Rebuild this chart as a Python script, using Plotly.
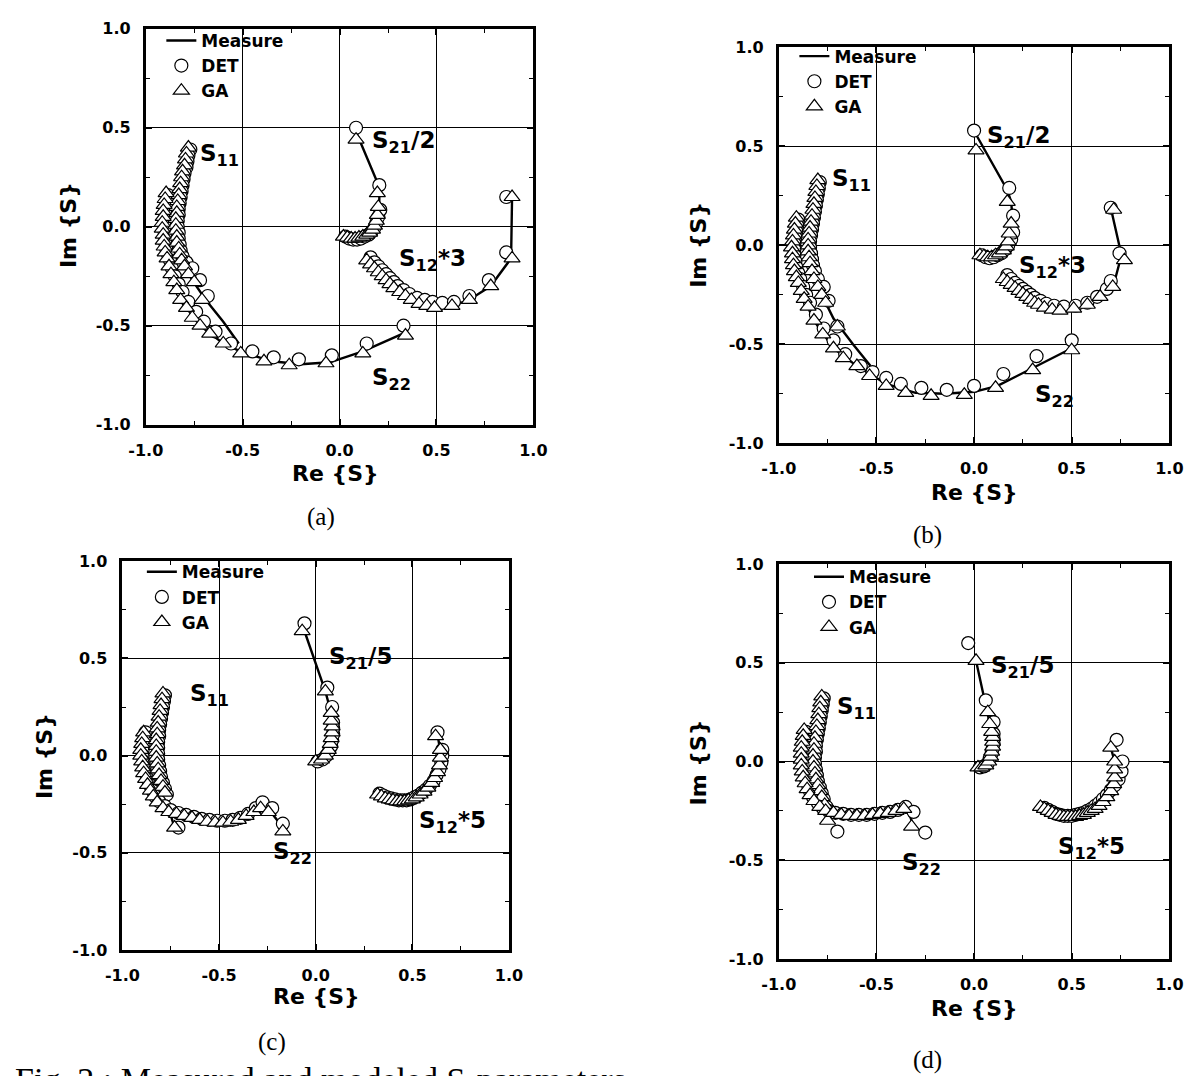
import plotly.graph_objects as go

# ---------------- tick labels ----------------
TICK_VALS = [-1.0, -0.5, 0.0, 0.5, 1.0]
TICK_TEXT = ["-1.0", "-0.5", "0.0", "0.5", "1.0"]

# ---------------- panel (a) ----------------
A_S11_MEAS = [-0.78+0.40j, -0.80+0.31j, -0.82+0.22j, -0.835+0.13j, -0.84+0.04j, -0.84-0.05j, -0.825-0.14j,
              -0.80-0.20j, -0.76-0.27j, -0.69-0.37j, -0.60-0.48j, -0.52-0.59j]
A_S11_DET = [-0.77+0.39j, -0.78+0.36j, -0.785+0.33j, -0.79+0.30j, -0.80+0.27j, -0.805+0.24j, -0.81+0.21j,
             -0.815+0.18j, -0.82+0.15j, -0.825+0.12j, -0.83+0.09j, -0.83+0.06j, -0.835+0.03j, -0.835+0.0j,
             -0.83-0.03j, -0.83-0.06j, -0.825-0.09j, -0.82-0.12j, -0.81-0.15j, -0.79-0.18j, -0.76-0.21j,
             -0.72-0.27j, -0.68-0.35j]
A_S11_GA = [-0.78+0.40j, -0.79+0.37j, -0.795+0.34j, -0.80+0.31j, -0.81+0.28j, -0.815+0.25j, -0.82+0.22j,
            -0.825+0.19j, -0.83+0.16j, -0.835+0.13j, -0.84+0.10j, -0.84+0.07j, -0.845+0.04j, -0.845+0.01j,
            -0.845-0.02j, -0.84-0.05j, -0.84-0.08j, -0.83-0.11j, -0.825-0.14j, -0.815-0.17j, -0.80-0.20j,
            -0.78-0.24j, -0.75-0.28j, -0.71-0.37j]
A_S22_MEAS = [-0.895+0.17j, -0.91+0.08j, -0.915-0.01j, -0.905-0.10j, -0.88-0.20j, -0.84-0.32j, -0.79-0.41j,
              -0.72-0.50j, -0.60-0.59j, -0.50-0.635j, -0.35-0.68j, -0.20-0.695j, -0.05-0.685j, 0.12-0.63j,
              0.35-0.53j]
A_S22_DET = [-0.885+0.16j, -0.89+0.13j, -0.895+0.10j, -0.90+0.07j, -0.90+0.04j, -0.905+0.01j, -0.905-0.02j,
             -0.90-0.05j, -0.90-0.08j, -0.895-0.11j, -0.885-0.14j, -0.875-0.17j, -0.865-0.21j, -0.85-0.25j,
             -0.83-0.29j, -0.81-0.33j, -0.78-0.38j, -0.74-0.43j, -0.70-0.48j, -0.64-0.53j, -0.56-0.59j,
             -0.45-0.63j, -0.34-0.66j, -0.21-0.67j, -0.04-0.65j, 0.14-0.59j, 0.33-0.50j]
A_S22_GA = [-0.895+0.17j, -0.90+0.14j, -0.905+0.11j, -0.91+0.08j, -0.91+0.05j, -0.915+0.02j, -0.915-0.01j,
            -0.91-0.04j, -0.91-0.07j, -0.905-0.10j, -0.90-0.13j, -0.89-0.16j, -0.88-0.20j, -0.87-0.24j,
            -0.855-0.28j, -0.84-0.32j, -0.82-0.37j, -0.79-0.41j, -0.76-0.46j, -0.72-0.50j, -0.67-0.54j,
            -0.60-0.59j, -0.51-0.64j, -0.39-0.68j, -0.26-0.70j, -0.07-0.69j, 0.12-0.64j, 0.34-0.55j]
A_S21_MEAS = [0.03-0.05j, 0.08-0.065j, 0.13-0.05j, 0.17-0.02j, 0.19+0.02j, 0.205+0.08j, 0.205+0.20j, 0.085+0.48j]
A_S21_DET = [0.03-0.05j, 0.05-0.06j, 0.07-0.065j, 0.09-0.065j, 0.11-0.06j, 0.13-0.05j, 0.15-0.04j,
             0.165-0.025j, 0.18-0.005j, 0.19+0.02j, 0.20+0.05j, 0.21+0.085j, 0.205+0.21j, 0.085+0.50j]
A_S21_GA = [0.02-0.05j, 0.04-0.055j, 0.06-0.06j, 0.08-0.06j, 0.10-0.055j, 0.12-0.05j, 0.14-0.04j,
            0.155-0.03j, 0.17-0.015j, 0.18+0.005j, 0.19+0.03j, 0.195+0.06j, 0.20+0.10j, 0.195+0.17j, 0.085+0.44j]
A_S12_MEAS = [0.15-0.165j, 0.25-0.26j, 0.35-0.35j, 0.45-0.395j, 0.55-0.405j, 0.66-0.375j, 0.78-0.30j,
              0.885-0.16j, 0.89+0.15j]
A_S12_DET = [0.16-0.155j, 0.18-0.18j, 0.20-0.20j, 0.22-0.22j, 0.24-0.24j, 0.26-0.26j, 0.28-0.28j, 0.30-0.30j,
             0.33-0.32j, 0.36-0.34j, 0.40-0.36j, 0.44-0.37j, 0.48-0.38j, 0.53-0.385j, 0.59-0.38j, 0.67-0.35j,
             0.77-0.27j, 0.86-0.13j, 0.86+0.15j]
A_S12_GA = [0.14-0.17j, 0.16-0.19j, 0.18-0.21j, 0.20-0.23j, 0.22-0.25j, 0.24-0.27j, 0.26-0.29j, 0.28-0.31j,
            0.31-0.33j, 0.34-0.35j, 0.37-0.37j, 0.41-0.39j, 0.45-0.40j, 0.49-0.41j, 0.58-0.40j, 0.67-0.37j,
            0.78-0.30j, 0.89-0.16j, 0.89+0.15j]

# ---------------- panel (b) ----------------
B_S11_MEAS = [-0.80+0.33j, -0.815+0.24j, -0.83+0.15j, -0.845+0.06j, -0.85-0.03j, -0.84-0.09j, -0.82-0.17j,
              -0.78-0.25j, -0.72-0.37j, -0.62-0.50j, -0.53-0.61j]
B_S11_DET = [-0.79+0.32j, -0.795+0.29j, -0.80+0.26j, -0.805+0.23j, -0.81+0.20j, -0.815+0.17j, -0.82+0.14j,
             -0.825+0.11j, -0.83+0.08j, -0.835+0.05j, -0.84+0.02j, -0.84-0.01j, -0.835-0.04j, -0.83-0.07j,
             -0.825-0.10j, -0.815-0.13j, -0.80-0.17j, -0.77-0.21j, -0.745-0.28j, -0.70-0.41j]
B_S11_GA = [-0.80+0.33j, -0.805+0.30j, -0.81+0.27j, -0.815+0.24j, -0.82+0.21j, -0.825+0.18j, -0.83+0.15j,
            -0.835+0.12j, -0.84+0.09j, -0.845+0.06j, -0.85+0.03j, -0.85+0.0j, -0.85-0.03j, -0.845-0.06j,
            -0.84-0.09j, -0.83-0.13j, -0.82-0.17j, -0.80-0.21j, -0.78-0.25j, -0.76-0.29j, -0.70-0.41j]
B_S22_MEAS = [-0.91+0.14j, -0.93+0.02j, -0.93-0.07j, -0.91-0.16j, -0.87-0.27j, -0.82-0.38j, -0.72-0.52j,
              -0.60-0.61j, -0.45-0.70j, -0.30-0.745j, -0.15-0.75j, 0.0-0.74j, 0.12-0.71j, 0.30-0.62j, 0.50-0.52j]
B_S22_DET = [-0.90+0.13j, -0.905+0.10j, -0.91+0.07j, -0.915+0.04j, -0.92+0.01j, -0.92-0.02j, -0.92-0.05j,
             -0.915-0.08j, -0.91-0.11j, -0.90-0.14j, -0.89-0.17j, -0.875-0.21j, -0.86-0.25j, -0.84-0.29j,
             -0.81-0.35j, -0.77-0.42j, -0.72-0.48j, -0.66-0.55j, -0.58-0.61j, -0.52-0.64j, -0.45-0.67j,
             -0.375-0.70j, -0.27-0.72j, -0.14-0.73j, 0.0-0.71j, 0.15-0.65j, 0.32-0.56j, 0.50-0.48j]
B_S22_GA = [-0.91+0.14j, -0.915+0.11j, -0.92+0.08j, -0.925+0.05j, -0.93+0.02j, -0.935-0.01j, -0.93-0.04j,
            -0.93-0.07j, -0.925-0.10j, -0.92-0.13j, -0.91-0.16j, -0.90-0.19j, -0.885-0.23j, -0.87-0.27j,
            -0.85-0.31j, -0.82-0.38j, -0.775-0.45j, -0.72-0.52j, -0.67-0.57j, -0.60-0.61j, -0.535-0.66j,
            -0.45-0.71j, -0.35-0.745j, -0.22-0.76j, -0.05-0.755j, 0.11-0.72j, 0.30-0.63j, 0.50-0.53j]
B_S21_MEAS = [0.03-0.05j, 0.08-0.065j, 0.13-0.045j, 0.17-0.01j, 0.19+0.04j, 0.20+0.10j, 0.19+0.22j,
              0.17+0.28j, 0.01+0.56j]
B_S21_DET = [0.04-0.05j, 0.06-0.06j, 0.08-0.065j, 0.10-0.06j, 0.12-0.05j, 0.14-0.04j, 0.16-0.02j,
             0.175+0.0j, 0.19+0.03j, 0.20+0.065j, 0.20+0.15j, 0.18+0.29j, 0.0+0.58j]
B_S21_GA = [0.03-0.05j, 0.05-0.055j, 0.07-0.06j, 0.09-0.06j, 0.11-0.05j, 0.13-0.04j, 0.15-0.025j,
            0.165-0.005j, 0.175+0.02j, 0.18+0.06j, 0.19+0.11j, 0.17+0.22j, 0.01+0.48j]
B_S12_MEAS = [0.15-0.165j, 0.25-0.24j, 0.35-0.30j, 0.45-0.325j, 0.55-0.315j, 0.65-0.26j, 0.72-0.18j,
              0.755-0.05j, 0.70+0.19j]
B_S12_DET = [0.17-0.15j, 0.19-0.17j, 0.21-0.19j, 0.23-0.205j, 0.25-0.22j, 0.27-0.235j, 0.29-0.25j,
             0.31-0.265j, 0.34-0.28j, 0.37-0.295j, 0.41-0.305j, 0.46-0.31j, 0.52-0.305j, 0.58-0.29j,
             0.63-0.26j, 0.68-0.22j, 0.70-0.18j, 0.745-0.04j, 0.70+0.19j]
B_S12_GA = [0.15-0.17j, 0.17-0.185j, 0.19-0.20j, 0.21-0.215j, 0.23-0.23j, 0.25-0.245j, 0.27-0.26j,
            0.29-0.275j, 0.31-0.29j, 0.33-0.30j, 0.36-0.315j, 0.40-0.325j, 0.44-0.33j, 0.51-0.32j,
            0.58-0.30j, 0.645-0.26j, 0.71-0.21j, 0.77-0.075j, 0.715+0.18j]

# ---------------- panel (c) ----------------
C_S11_MEAS = [-0.79+0.32j, -0.805+0.23j, -0.815+0.14j, -0.825+0.05j, -0.82-0.04j, -0.81-0.10j, -0.79-0.18j,
              -0.76-0.27j, -0.73-0.37j]
C_S11_DET = [-0.78+0.31j, -0.785+0.28j, -0.79+0.25j, -0.795+0.22j, -0.80+0.19j, -0.805+0.16j, -0.81+0.13j,
             -0.81+0.10j, -0.815+0.07j, -0.815+0.04j, -0.815+0.01j, -0.815-0.02j, -0.81-0.05j, -0.805-0.08j,
             -0.80-0.11j, -0.79-0.14j, -0.78-0.17j, -0.77-0.20j, -0.71-0.37j]
C_S11_GA = [-0.79+0.32j, -0.795+0.29j, -0.80+0.26j, -0.805+0.23j, -0.81+0.20j, -0.815+0.17j, -0.82+0.14j,
            -0.82+0.11j, -0.825+0.08j, -0.825+0.05j, -0.825+0.02j, -0.825-0.01j, -0.82-0.04j, -0.815-0.07j,
            -0.81-0.10j, -0.80-0.13j, -0.79-0.16j, -0.78-0.19j, -0.73-0.37j]
C_S22_MEAS = [-0.89+0.12j, -0.905+0.03j, -0.90-0.03j, -0.88-0.12j, -0.84-0.21j, -0.79-0.27j, -0.72-0.30j,
              -0.60-0.33j, -0.48-0.345j, -0.40-0.33j, -0.32-0.29j, -0.28-0.26j, -0.24-0.28j, -0.17-0.37j]
C_S22_DET = [-0.88+0.12j, -0.885+0.09j, -0.89+0.06j, -0.895+0.03j, -0.895+0.0j, -0.89-0.03j, -0.885-0.06j,
             -0.88-0.09j, -0.87-0.12j, -0.86-0.15j, -0.845-0.18j, -0.83-0.21j, -0.81-0.235j, -0.78-0.26j,
             -0.75-0.28j, -0.71-0.295j, -0.67-0.305j, -0.63-0.315j, -0.59-0.325j, -0.55-0.33j, -0.51-0.335j,
             -0.47-0.335j, -0.43-0.33j, -0.39-0.32j, -0.35-0.30j, -0.31-0.27j, -0.275-0.24j, -0.225-0.27j,
             -0.17-0.35j]
C_S22_GA = [-0.89+0.12j, -0.895+0.09j, -0.90+0.06j, -0.905+0.03j, -0.905+0.0j, -0.90-0.03j, -0.895-0.06j,
            -0.89-0.09j, -0.88-0.12j, -0.87-0.15j, -0.855-0.18j, -0.84-0.21j, -0.82-0.24j, -0.79-0.27j,
            -0.76-0.29j, -0.72-0.30j, -0.68-0.31j, -0.64-0.32j, -0.60-0.33j, -0.56-0.34j, -0.52-0.345j,
            -0.48-0.345j, -0.44-0.34j, -0.40-0.33j, -0.36-0.31j, -0.32-0.29j, -0.285-0.27j, -0.245-0.29j,
            -0.17-0.39j]
C_S21_MEAS = [0.0-0.03j, 0.04-0.015j, 0.065+0.03j, 0.08+0.09j, 0.085+0.15j, 0.08+0.22j, 0.05+0.33j, -0.065+0.66j]
C_S21_DET = [0.01-0.03j, 0.035-0.02j, 0.055+0.0j, 0.07+0.025j, 0.08+0.05j, 0.085+0.08j, 0.09+0.11j,
             0.09+0.14j, 0.09+0.17j, 0.085+0.25j, 0.06+0.35j, -0.058+0.68j]
C_S21_GA = [0.0-0.03j, 0.03-0.02j, 0.05+0.0j, 0.065+0.03j, 0.075+0.06j, 0.08+0.09j, 0.085+0.12j,
            0.085+0.15j, 0.08+0.18j, 0.08+0.22j, 0.05+0.33j, -0.07+0.64j]
C_S12_MEAS = [0.32-0.20j, 0.40-0.23j, 0.48-0.23j, 0.56-0.19j, 0.61-0.12j, 0.64-0.04j, 0.645+0.02j, 0.63+0.11j]
C_S12_DET = [0.33-0.195j, 0.35-0.205j, 0.37-0.215j, 0.39-0.22j, 0.41-0.225j, 0.43-0.23j, 0.45-0.23j,
             0.47-0.23j, 0.49-0.225j, 0.51-0.215j, 0.53-0.205j, 0.55-0.19j, 0.57-0.175j, 0.59-0.155j,
             0.61-0.13j, 0.625-0.10j, 0.64-0.07j, 0.65-0.035j, 0.655+0.0j, 0.655+0.03j, 0.63+0.12j]
C_S12_GA = [0.32-0.20j, 0.34-0.21j, 0.36-0.22j, 0.38-0.225j, 0.40-0.23j, 0.42-0.235j, 0.44-0.235j,
            0.46-0.235j, 0.48-0.23j, 0.50-0.225j, 0.52-0.215j, 0.54-0.20j, 0.56-0.185j, 0.58-0.165j,
            0.60-0.14j, 0.615-0.115j, 0.63-0.085j, 0.64-0.05j, 0.645-0.01j, 0.645+0.03j, 0.62+0.10j]

# ---------------- panel (d) ----------------
D_S11_MEAS = [-0.78+0.33j, -0.795+0.24j, -0.81+0.15j, -0.82+0.06j, -0.825+0.0j, -0.815-0.06j, -0.79-0.15j,
              -0.765-0.22j, -0.75-0.30j]
D_S11_DET = [-0.77+0.32j, -0.775+0.29j, -0.78+0.26j, -0.785+0.23j, -0.79+0.20j, -0.795+0.17j, -0.80+0.14j,
             -0.805+0.11j, -0.81+0.08j, -0.81+0.05j, -0.815+0.02j, -0.815-0.01j, -0.81-0.04j, -0.805-0.07j,
             -0.80-0.10j, -0.79-0.13j, -0.78-0.16j, -0.77-0.19j, -0.755-0.23j, -0.70-0.355j]
D_S11_GA = [-0.78+0.33j, -0.785+0.30j, -0.79+0.27j, -0.795+0.24j, -0.80+0.21j, -0.805+0.18j, -0.81+0.15j,
            -0.815+0.12j, -0.82+0.09j, -0.82+0.06j, -0.825+0.03j, -0.825+0.0j, -0.82-0.03j, -0.815-0.06j,
            -0.81-0.09j, -0.80-0.12j, -0.79-0.15j, -0.78-0.18j, -0.765-0.22j, -0.75-0.30j]
D_S22_MEAS = [-0.87+0.16j, -0.885+0.07j, -0.885-0.02j, -0.865-0.11j, -0.82-0.20j, -0.76-0.25j, -0.68-0.27j,
              -0.56-0.275j, -0.44-0.26j, -0.36-0.24j, -0.33-0.27j, -0.31-0.33j]
D_S22_DET = [-0.86+0.15j, -0.865+0.12j, -0.87+0.09j, -0.875+0.06j, -0.875+0.03j, -0.875+0.0j, -0.87-0.03j,
             -0.865-0.06j, -0.86-0.09j, -0.85-0.12j, -0.84-0.15j, -0.825-0.18j, -0.80-0.21j, -0.775-0.235j,
             -0.745-0.25j, -0.71-0.26j, -0.67-0.265j, -0.63-0.27j, -0.59-0.27j, -0.55-0.27j, -0.51-0.265j,
             -0.47-0.26j, -0.43-0.255j, -0.39-0.245j, -0.35-0.23j, -0.31-0.255j, -0.25-0.36j]
D_S22_GA = [-0.87+0.16j, -0.875+0.13j, -0.88+0.10j, -0.885+0.07j, -0.885+0.04j, -0.885+0.01j, -0.885-0.02j,
            -0.88-0.05j, -0.875-0.08j, -0.865-0.11j, -0.855-0.14j, -0.84-0.17j, -0.82-0.20j, -0.79-0.23j,
            -0.76-0.25j, -0.72-0.26j, -0.68-0.27j, -0.64-0.275j, -0.60-0.275j, -0.56-0.275j, -0.52-0.27j,
            -0.48-0.265j, -0.44-0.26j, -0.40-0.25j, -0.36-0.24j, -0.32-0.33j]
D_S21_MEAS = [0.02-0.03j, 0.06-0.02j, 0.085+0.025j, 0.095+0.075j, 0.095+0.125j, 0.08+0.19j, 0.07+0.25j, 0.01+0.51j]
D_S21_DET = [0.03-0.03j, 0.05-0.025j, 0.07-0.01j, 0.08+0.015j, 0.09+0.04j, 0.095+0.065j, 0.10+0.09j,
             0.10+0.115j, 0.10+0.14j, 0.10+0.20j, 0.06+0.31j, -0.03+0.60j]
D_S21_GA = [0.02-0.03j, 0.04-0.03j, 0.06-0.02j, 0.075+0.0j, 0.085+0.025j, 0.09+0.05j, 0.095+0.075j,
            0.095+0.10j, 0.095+0.125j, 0.09+0.15j, 0.08+0.19j, 0.07+0.25j, 0.01+0.51j]
D_S12_MEAS = [0.34-0.23j, 0.42-0.27j, 0.50-0.28j, 0.58-0.26j, 0.64-0.225j, 0.70-0.15j, 0.72-0.06j,
              0.72+0.0j, 0.70+0.07j]
D_S12_DET = [0.36-0.235j, 0.38-0.245j, 0.40-0.255j, 0.42-0.265j, 0.44-0.27j, 0.46-0.275j, 0.48-0.275j,
             0.50-0.275j, 0.52-0.27j, 0.54-0.265j, 0.56-0.26j, 0.58-0.25j, 0.60-0.24j, 0.62-0.225j,
             0.64-0.21j, 0.66-0.19j, 0.68-0.17j, 0.70-0.145j, 0.72-0.12j, 0.74-0.09j, 0.755-0.05j,
             0.76+0.0j, 0.73+0.11j]
D_S12_GA = [0.34-0.23j, 0.36-0.24j, 0.38-0.25j, 0.40-0.26j, 0.42-0.27j, 0.44-0.275j, 0.46-0.28j,
            0.48-0.28j, 0.50-0.28j, 0.52-0.28j, 0.54-0.275j, 0.56-0.27j, 0.58-0.26j, 0.60-0.25j,
            0.62-0.24j, 0.64-0.225j, 0.66-0.205j, 0.68-0.18j, 0.70-0.15j, 0.715-0.115j, 0.72-0.08j,
            0.72-0.04j, 0.72+0.0j, 0.70+0.07j]

# series labels drawn next to the curves
LABELS_A = ["S<sub>11</sub>", "S<sub>21</sub>/2", "S<sub>12</sub>*3", "S<sub>22</sub>"]
LABELS_B = ["S<sub>11</sub>", "S<sub>21</sub>/2", "S<sub>12</sub>*3", "S<sub>22</sub>"]
LABELS_C = ["S<sub>11</sub>", "S<sub>21</sub>/5", "S<sub>12</sub>*5", "S<sub>22</sub>"]
LABELS_D = ["S<sub>11</sub>", "S<sub>21</sub>/5", "S<sub>12</sub>*5", "S<sub>22</sub>"]
PANEL_NAMES = ["(a)", "(b)", "(c)", "(d)"]
LEGEND_NAMES = ["Measure", "DET", "GA"]
FIG_CAPTION = "Fig. 2 : Measured and modeled S-parameters"

# ---------------- layout geometry (target pixels) ----------------
W, H, OFF = 1188, 1068, 8


def px(x):
    return (x - OFF) / W


def py(y):
    return 1 - (y - OFF) / H


# plot rectangles: left, right, top, bottom (pixels in the reference)
RECTS = [(132, 530, 20, 423), (782, 1183, 39, 442), (108, 505, 562, 958), (782, 1183, 565, 967)]
# label anchor positions in data coordinates for S11, S21, S12, S22
LABEL_POS = [
    [(-0.62, 0.36), (0.33, 0.43), (0.48, -0.17), (0.27, -0.77)],
    [(-0.63, 0.33), (0.23, 0.55), (0.40, -0.11), (0.41, -0.76)],
    [(-0.55, 0.31), (0.23, 0.50), (0.71, -0.34), (-0.12, -0.50)],
    [(-0.60, 0.27), (0.25, 0.48), (0.60, -0.44), (-0.27, -0.52)],
]
IM_POS = [(52, 220), (700, 240), (28, 760), (700, 767)]
RE_POS = [(327, 473), (983, 492), (307, 1005), (983, 1017)]
CAP_POS = [(312, 517), (935, 535), (262, 1052), (935, 1070)]
LEG_POS = [(148, 14), (798, 30), (128, 555), (813, 560)]

PANELS = [
    [(A_S11_MEAS, A_S11_DET, A_S11_GA), (A_S21_MEAS, A_S21_DET, A_S21_GA),
     (A_S12_MEAS, A_S12_DET, A_S12_GA), (A_S22_MEAS, A_S22_DET, A_S22_GA)],
    [(B_S11_MEAS, B_S11_DET, B_S11_GA), (B_S21_MEAS, B_S21_DET, B_S21_GA),
     (B_S12_MEAS, B_S12_DET, B_S12_GA), (B_S22_MEAS, B_S22_DET, B_S22_GA)],
    [(C_S11_MEAS, C_S11_DET, C_S11_GA), (C_S21_MEAS, C_S21_DET, C_S21_GA),
     (C_S12_MEAS, C_S12_DET, C_S12_GA), (C_S22_MEAS, C_S22_DET, C_S22_GA)],
    [(D_S11_MEAS, D_S11_DET, D_S11_GA), (D_S21_MEAS, D_S21_DET, D_S21_GA),
     (D_S12_MEAS, D_S12_DET, D_S12_GA), (D_S22_MEAS, D_S22_DET, D_S22_GA)],
]
LABELS = [LABELS_A, LABELS_B, LABELS_C, LABELS_D]

SANS = "DejaVu Sans"
SERIF = "Liberation Serif"

fig = go.Figure()
annotations = []
layout = dict(
    width=W, height=H, margin=dict(l=0, r=0, t=0, b=0),
    paper_bgcolor="white", plot_bgcolor="white", showlegend=True,
)

for i, panel in enumerate(PANELS):
    n = "" if i == 0 else str(i + 1)
    xa, ya = "x" + n, "y" + n
    leg = "legend" + n
    l, r, t, b = RECTS[i]
    axis_common = dict(
        range=[-1, 1], tickmode="array", tickvals=TICK_VALS, ticktext=TICK_TEXT,
        showgrid=True, gridcolor="black", gridwidth=1.4, zeroline=False,
        showline=True, linecolor="black", linewidth=2.8, mirror="allticks",
        ticks="inside", ticklen=6, tickwidth=1.5, tickcolor="black",
        minor=dict(ticks="inside", ticklen=4, tickwidth=1.3, tickcolor="black",
                   tickmode="linear", tick0=0, dtick=0.25, showgrid=False),
        tickfont=dict(family=SANS, size=16, color="black", weight="bold"),
        ticklabelstandoff=9, fixedrange=True,
    )
    layout["xaxis" + n] = dict(axis_common, domain=[px(l), px(r)], anchor=ya)
    layout["yaxis" + n] = dict(axis_common, domain=[py(b), py(t)], anchor=xa)
    lx, ly = LEG_POS[i]
    layout[leg] = dict(
        x=px(lx), y=py(ly), xanchor="left", yanchor="top", xref="paper", yref="paper",
        bgcolor="rgba(0,0,0,0)", borderwidth=0, itemwidth=30, tracegroupgap=0,
        font=dict(family=SANS, size=17, color="black", weight="bold"),
    )

    # measured lines
    for k, (meas, det, ga) in enumerate(panel):
        fig.add_trace(go.Scatter(
            x=[z.real for z in meas], y=[z.imag for z in meas], mode="lines",
            line=dict(color="black", width=2.4), name=LEGEND_NAMES[0],
            showlegend=(k == 0), legend=leg, xaxis=xa, yaxis=ya, hoverinfo="skip"))
    # DET circles
    for k, (meas, det, ga) in enumerate(panel):
        fig.add_trace(go.Scatter(
            x=[z.real for z in det], y=[z.imag for z in det], mode="markers",
            marker=dict(symbol="circle", size=13, color="white", line=dict(color="black", width=1.2)),
            name=LEGEND_NAMES[1], showlegend=(k == 0), legend=leg, xaxis=xa, yaxis=ya, hoverinfo="skip"))
    # GA triangles
    for k, (meas, det, ga) in enumerate(panel):
        fig.add_trace(go.Scatter(
            x=[z.real for z in ga], y=[z.imag for z in ga], mode="markers",
            marker=dict(symbol="triangle-up", size=14, color="white", line=dict(color="black", width=1.2)),
            name=LEGEND_NAMES[2], showlegend=(k == 0), legend=leg, xaxis=xa, yaxis=ya, hoverinfo="skip"))

    # S-parameter labels
    for k, txt in enumerate(LABELS[i]):
        ax_, ay_ = LABEL_POS[i][k]
        annotations.append(dict(
            x=ax_, y=ay_, xref=xa, yref=ya, text="<b>" + txt + "</b>", showarrow=False,
            font=dict(family=SANS, size=23, color="black"), xanchor="center", yanchor="middle"))
    # axis titles
    annotations.append(dict(
        x=px(IM_POS[i][0]), y=py(IM_POS[i][1]), xref="paper", yref="paper", text="<b>Im {S}</b>",
        textangle=-90, showarrow=False, font=dict(family=SANS, size=22, color="black"),
        xanchor="center", yanchor="middle"))
    annotations.append(dict(
        x=px(RE_POS[i][0]), y=py(RE_POS[i][1]), xref="paper", yref="paper", text="<b>Re {S}</b>",
        showarrow=False, font=dict(family=SANS, size=22, color="black"),
        xanchor="center", yanchor="middle"))
    annotations.append(dict(
        x=px(CAP_POS[i][0]), y=py(CAP_POS[i][1]), xref="paper", yref="paper", text=PANEL_NAMES[i],
        showarrow=False, font=dict(family=SERIF, size=25, color="black"),
        xanchor="center", yanchor="middle"))

annotations.append(dict(
    x=px(-4), y=py(1069), xref="paper", yref="paper",
    text=FIG_CAPTION, showarrow=False,
    font=dict(family=SERIF, size=34, color="black"), xanchor="left", yanchor="top"))

layout["annotations"] = annotations
fig.update_layout(**layout)
fig.write_html("out.html")
